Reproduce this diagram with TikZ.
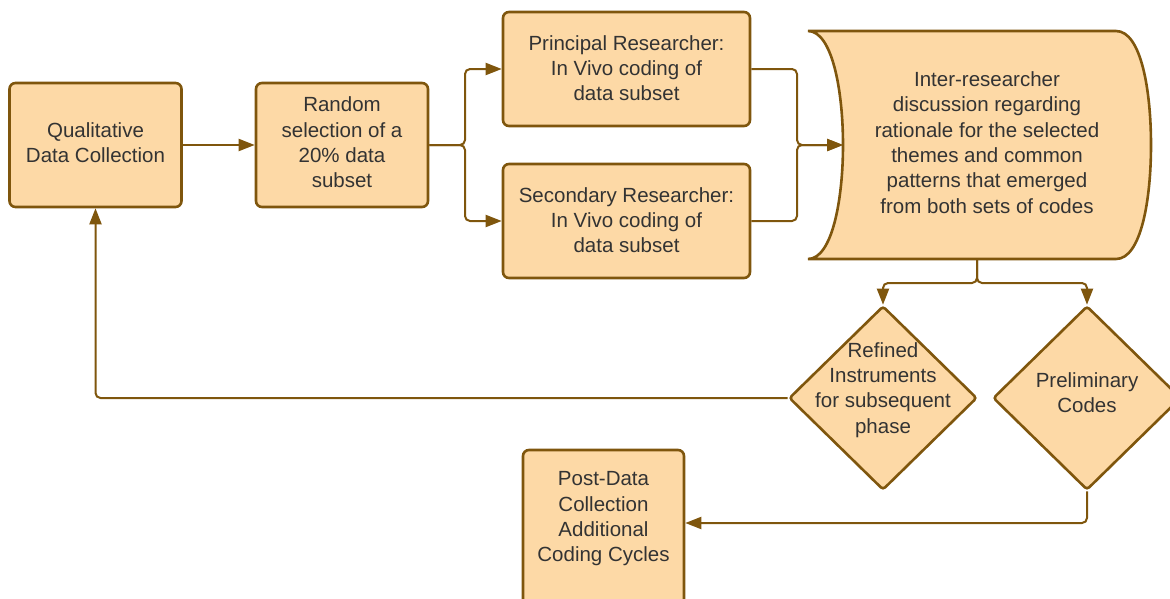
\documentclass[tikz,border=0pt]{standalone}
\usepackage{fontspec}
\setmainfont{Liberation Sans}
\usetikzlibrary{arrows.meta,shapes.geometric}
\definecolor{boxfill}{HTML}{FDD9A6}
\definecolor{boxline}{HTML}{7F560D}
\definecolor{txt}{HTML}{333333}
\begin{document}
\begin{tikzpicture}[x=1pt,y=-1pt,
  box/.style={draw=boxline, fill=boxfill, line width=2.6pt, rounded corners=6pt, inner sep=0pt},
  lbl/.style={text=txt, font=\fontsize{20.5}{25.3}\selectfont, align=center, inner sep=0pt},
  conn/.style={draw=boxline, line width=2pt, rounded corners=5pt, -{Triangle[length=16pt,width=12pt]}},
  dia/.style={draw=boxline, fill=boxfill, line width=2.6pt, diamond, rounded corners=3pt, inner sep=0pt, minimum width=188pt, minimum height=184pt}]
\useasboundingbox (0,0) rectangle (1170,598);
\clip (0,0) rectangle (1170,598);

% boxes
\node[box, minimum width=172pt, minimum height=124pt] (A) at (95.5,145) {};
\node[lbl] (At) at (95.5,143) {Qualitative\\Data Collection};
\node[box, minimum width=172pt, minimum height=124pt] (B) at (342,145) {};
\node[lbl] (Bt) at (342,142.5) {Random\\selection of a\\20\% data\\subset};
\node[box, minimum width=247pt, minimum height=114pt] (C) at (626.5,69) {};
\node[lbl] (Ct) at (626.5,68) {Principal Researcher:\\In Vivo coding of\\data subset};
\node[box, minimum width=247pt, minimum height=114pt] (D) at (626.5,221) {};
\node[lbl] (Dt) at (626.5,220) {Secondary Researcher:\\In Vivo coding of\\data subset};

% stored-data shape
\path[draw=boxline, fill=boxfill, line width=2.6pt]
  (808,31) -- (1116,31) .. controls (1141,31) and (1151,90) .. (1151,145)
  .. controls (1151,200) and (1141,259) .. (1116,259) -- (808,259)
  .. controls (832,259) and (843,200) .. (843,145)
  .. controls (843,90) and (832,31) .. (808,31) -- cycle;
\node[lbl] (E) at (987,142.5) {Inter-researcher\\discussion regarding\\rationale for the selected\\themes and common\\patterns that emerged\\from both sets of codes};
\coordinate (Ein) at (843,145);
\coordinate (Ebot) at (977,259);

% diamonds
\node[dia] (F) at (883,398) {};
\node[lbl] (Ft) at (883,390) {Refined\\Instruments\\for subsequent\\phase};
\node[dia] (G) at (1087,398) {};
\node[lbl] (Gt) at (1087,393) {Preliminary\\Codes};

% bottom box
\node[box, minimum width=161pt, minimum height=160pt] (H) at (603.5,530) {};
\node[lbl] (Ht) at (603.5,519) {Post-Data\\Collection\\Additional\\Coding Cycles};

% connectors
\coordinate (jB) at (465,145);
\coordinate (jE) at (797,145);
\coordinate (jF) at (977,283);
\coordinate (jG) at (1087,523);
\draw[conn] (A.east) -- (B.west);
\draw[conn] (B.east) -- (jB) |- (C.west);
\draw[conn] (B.east) -- (jB) |- (D.west);
\draw[conn] (C.east) -| (jE) -- (Ein);
\draw[conn] (D.east) -| (jE) -- (Ein);
\draw[conn] (Ebot) -- (jF) -| (F.north);
\draw[conn] (Ebot) -- (jF) -| (G.north);
\draw[conn] (F.west) -| (A.south);
\draw[conn] (G.south) -- (jG) -- (jG -| H.east);
\end{tikzpicture}
\end{document}
